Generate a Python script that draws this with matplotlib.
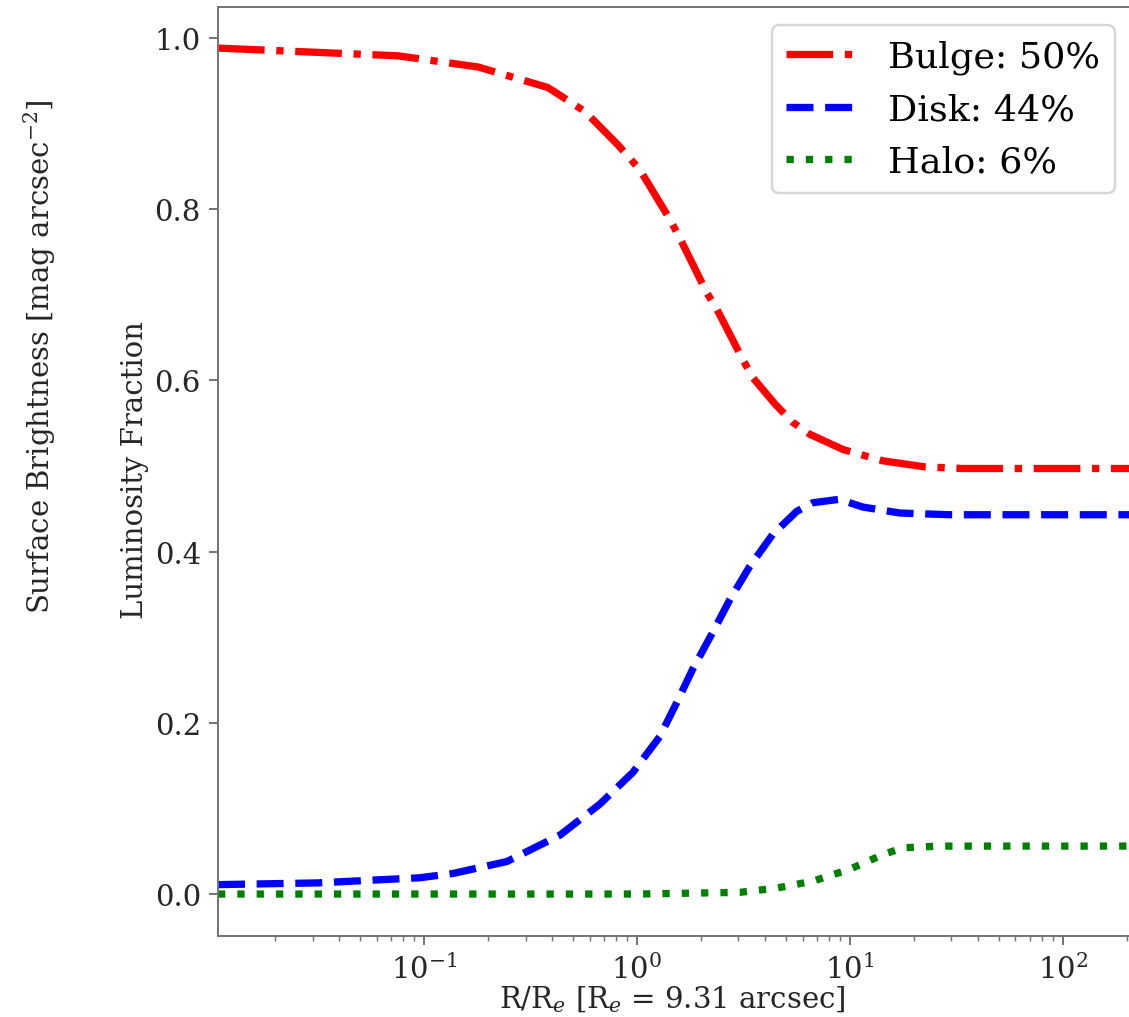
import numpy as np
import matplotlib
matplotlib.use('Agg')
import matplotlib.pyplot as plt

plt.rcParams['font.family'] = 'DejaVu Serif'
plt.rcParams['mathtext.fontset'] = 'dejavuserif'

# log10(R/R_e) and luminosity fraction
bulge_logr = [-1.967, -1.498, -1.122, -0.746, -0.418, -0.244, -0.089, 0.014, 0.155, 0.20,
              0.329, 0.376, 0.498, 0.545, 0.65, 0.732, 0.812, 0.97, 1.155, 1.35, 1.53, 1.9, 2.33]
bulge_frac = [0.988, 0.983, 0.979, 0.966, 0.942, 0.914, 0.875, 0.846, 0.788, 0.767,
              0.702, 0.683, 0.624, 0.603, 0.572, 0.551, 0.537, 0.519, 0.506, 0.499, 0.497, 0.497, 0.497]

disk_logr = [-1.967, -1.5, -1.02, -0.864, -0.61, -0.36, -0.174, -0.019, 0.108, 0.188, 0.263,
             0.357, 0.437, 0.531, 0.638, 0.751, 0.826, 0.95, 1.061, 1.235, 1.47, 1.9, 2.33]
disk_frac = [0.011, 0.013, 0.019, 0.024, 0.038, 0.069, 0.105, 0.142, 0.184, 0.224, 0.263,
             0.306, 0.344, 0.383, 0.420, 0.447, 0.457, 0.461, 0.452, 0.445, 0.443, 0.443, 0.443]

halo_logr = [-1.967, -1.0, 0.0, 0.484, 0.657, 0.826, 1.0, 1.155, 1.249, 1.42, 1.9, 2.33]
halo_frac = [0.0, 0.0, 0.0, 0.002, 0.007, 0.015, 0.029, 0.046, 0.054, 0.056, 0.056, 0.056]

fig = plt.figure(figsize=(1129/175., 1018/175.), dpi=175)
ax = fig.add_axes([218/1129., 1-937/1018., (1133-218)/1129., (937-8)/1018.])

ax.plot(10**np.array(bulge_logr), bulge_frac, color='red', ls='-.', lw=3, label='Bulge: 50%')
ax.plot(10**np.array(disk_logr), disk_frac, color='blue', ls='--', lw=3, label='Disk: 44%')
ax.plot(10**np.array(halo_logr), halo_frac, color='green', ls=':', lw=3, label='Halo: 6%')

ax.set_xscale('log')
ax.set_xlim(10**-1.967, 10**2.33)
ax.set_ylim(-0.049, 1.036)
ax.set_yticks([0.0, 0.2, 0.4, 0.6, 0.8, 1.0])
for s in ax.spines.values():
    s.set_color('0.45')
ax.tick_params(which='both', colors='0.45', labelcolor='0.15', labelsize=12)

ax.set_ylabel('Luminosity Fraction', fontsize=12, color='0.15', va='center')
ax.yaxis.set_label_coords((135-218)/915., (937-470)/929.)
ax.set_xlabel('R/R$_e$ [R$_e$ = 9.31 arcsec]', fontsize=12, color='0.15', va='center')
ax.xaxis.set_label_coords((672-218)/915., -(1000-937)/929.)
ax.legend(loc='upper right', fontsize=15)

fig.text(40/1129., 1-357/1018., 'Surface Brightness [mag arcsec$^{-2}$]', rotation=90,
         ha='center', va='center', fontsize=12, color='0.15')

fig.savefig('out.png', dpi=175)
